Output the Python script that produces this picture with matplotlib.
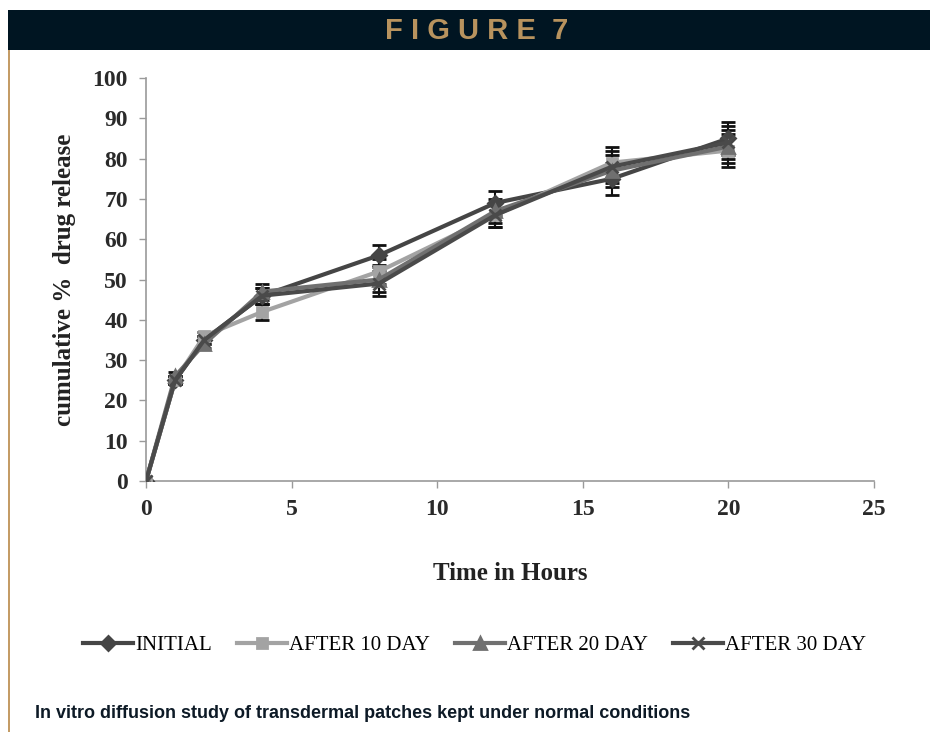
import matplotlib
matplotlib.use("Agg")
import matplotlib.pyplot as plt
from matplotlib.patches import Rectangle
from matplotlib.lines import Line2D

# Sampling times (hours)
time_h = [0, 1, 2, 4, 8, 12, 16, 20]

# Cumulative % drug release for each storage interval
initial = [0, 25, 35, 46, 56, 69, 75, 85]
after_10 = [0, 25, 36, 42, 52, 66, 79, 82]
after_20 = [0, 26, 34, 47, 50, 67, 77, 83]
after_30 = [0, 25, 35, 46, 49, 66, 78, 84]

# Standard deviations
err_initial = [0, 1, 1, 2, 2.5, 3, 4, 4]
err_10 = [0, 1, 1, 2, 3, 3, 4, 4]
err_20 = [0, 1, 1, 2, 3, 3, 4, 4]
err_30 = [0, 1, 1, 2, 3, 3, 4, 4]

series_names = ["INITIAL", "AFTER 10 DAY", "AFTER 20 DAY", "AFTER 30 DAY"]
x_ticks = [0, 5, 10, 15, 20, 25]
y_ticks = [0, 10, 20, 30, 40, 50, 60, 70, 80, 90, 100]

serif = ["Liberation Serif", "DejaVu Serif"]
narrow = ["Liberation Sans Narrow", "Liberation Sans", "DejaVu Sans"]

fig = plt.figure(figsize=(9.3, 7.32), dpi=100)
fig.patch.set_facecolor("white")

# Header banner
fig.patches.append(Rectangle((8 / 930, 1 - 50 / 732), 922 / 930, 40 / 732,
                             transform=fig.transFigure, facecolor="#001522",
                             edgecolor="none", zorder=0))
fig.text(0.512, 1 - 31 / 732, "F I G U R E  7", color="#b8935e",
         fontsize=21, fontweight="bold", family=narrow,
         ha="center", va="center")
# Left accent rule
fig.patches.append(Rectangle((8 / 930, 0), 2 / 930, 1 - 50 / 732,
                             transform=fig.transFigure, facecolor="#c49c66",
                             edgecolor="none", zorder=0))

ax = fig.add_axes([146 / 930, 1 - 481 / 732, 728 / 930, 403 / 732])

styles = [
    (initial, err_initial, "#454545", "D", 7),
    (after_10, err_10, "#a3a3a3", "s", 7),
    (after_20, err_20, "#707070", "^", 9),
    (after_30, err_30, "#4a4a4a", "x", 8),
]
handles = []
for (vals, errs, col, mk, ms), name in zip(styles, series_names):
    ax.errorbar(time_h, vals, yerr=errs, color=col, lw=3, marker=mk,
                ms=ms, mew=2, mec=col, mfc=col, ecolor="#111111",
                elinewidth=1.5, capsize=5, capthick=3, zorder=3)
    handles.append(Line2D([], [], color=col, lw=3, marker=mk, ms=ms,
                          mew=2, mec=col, mfc=col))

ax.set_xlim(0, 25)
ax.set_ylim(0, 100)
ax.set_xticks(x_ticks)
ax.set_yticks(y_ticks)
for s in ["top", "right"]:
    ax.spines[s].set_visible(False)
for s in ["left", "bottom"]:
    ax.spines[s].set_color("#9a9a9a")
    ax.spines[s].set_linewidth(1.2)
ax.tick_params(direction="out", length=5, color="#9a9a9a", width=1,
               labelsize=17, pad=8)
for lbl in ax.get_xticklabels() + ax.get_yticklabels():
    lbl.set_family(serif)
    lbl.set_fontweight("bold")
    lbl.set_color("#2a2a2a")

ax.set_xlabel("Time in Hours", family=serif, fontweight="bold",
              fontsize=18, color="#222222", labelpad=30)
ax.set_ylabel("cumulative %  drug release", family=serif, fontweight="bold",
              fontsize=18, color="#222222", labelpad=12)

fig.legend(handles, series_names, loc="center", ncol=4,
           bbox_to_anchor=(0.51, 1 - 645 / 732), frameon=False,
           prop={"family": serif, "size": 15}, handlelength=2.4,
           handletextpad=0.1, columnspacing=1.2)

fig.text(35 / 930, 1 - 713 / 732,
         "In vitro diffusion study of transdermal patches kept under normal conditions",
         color="#0d1a26", fontsize=13, fontweight="bold", family=narrow,
         ha="left", va="center")

fig.savefig("out.png", dpi=100, facecolor="white")
